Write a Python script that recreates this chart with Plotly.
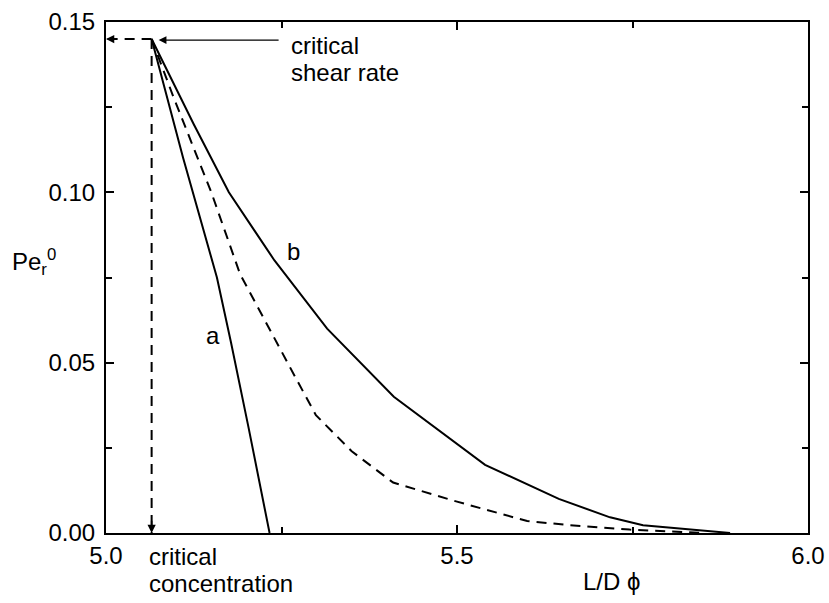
import plotly.graph_objects as go

# critical point
crit_x = 5.065
crit_y = 0.145

# curve a
a_x = [5.065, 5.11, 5.158, 5.178, 5.203, 5.224, 5.233]
a_y = [0.145, 0.11, 0.075, 0.056, 0.031, 0.010, 0.0]

# curve b
b_x = [5.065, 5.125, 5.175, 5.24, 5.315, 5.41, 5.54, 5.645, 5.718, 5.765, 5.889]
b_y = [0.145, 0.12, 0.10, 0.08, 0.06, 0.04, 0.02, 0.01, 0.0046, 0.0023, 0.0]

# dashed curve
d_x = [5.065, 5.096, 5.15, 5.191, 5.269, 5.299, 5.35, 5.409, 5.50, 5.60, 5.661, 5.746, 5.85]
d_y = [0.145, 0.128, 0.10, 0.076, 0.046, 0.0346, 0.024, 0.0148, 0.0092, 0.0035, 0.0023, 0.001, 0.0]

x_ticks = [5.0, 5.5, 6.0]
y_ticks = [0.00, 0.05, 0.10, 0.15]

FONT = "Liberation Sans, Arial, sans-serif"
FS = 24
tfont = dict(family=FONT, size=FS, color="black")

fig = go.Figure()
line_style = dict(color="black", width=2)
dash_style = dict(color="black", width=2, dash="10px,7px")
fig.add_trace(go.Scatter(x=a_x, y=a_y, mode="lines", line=line_style, showlegend=False))
fig.add_trace(go.Scatter(x=b_x, y=b_y, mode="lines", line=line_style, showlegend=False))
fig.add_trace(go.Scatter(x=d_x, y=d_y, mode="lines", line=dash_style, showlegend=False))
# dashed guide lines from critical point
fig.add_trace(go.Scatter(x=[crit_x, 5.0], y=[crit_y, crit_y], mode="lines",
                         line=dash_style, showlegend=False))
fig.add_trace(go.Scatter(x=[crit_x, crit_x], y=[crit_y, 0.0], mode="lines",
                         line=dash_style, showlegend=False))

ann = []
# arrowheads of dashed guides
ann.append(dict(x=5.0, y=crit_y, ax=5.012, ay=crit_y, xref="x", yref="y", axref="x", ayref="y",
                showarrow=True, arrowhead=2, arrowsize=1.1, arrowwidth=1.5, arrowcolor="black",
                standoff=0, text=""))
ann.append(dict(x=crit_x, y=0.0, ax=crit_x, ay=0.004, xref="x", yref="y", axref="x", ayref="y",
                showarrow=True, arrowhead=2, arrowsize=1.1, arrowwidth=1.5, arrowcolor="black",
                standoff=0, text=""))
# critical shear rate arrow
ann.append(dict(x=5.075, y=crit_y - 0.0003, ax=5.248, ay=crit_y - 0.0003, xref="x", yref="y",
                axref="x", ayref="y", showarrow=True, arrowhead=2, arrowsize=1.3, arrowwidth=1.2,
                arrowcolor="black", standoff=0, text=""))
ann.append(dict(x=5.26, y=0.1477, xref="x", yref="y", text="critical",
                showarrow=False, xanchor="left", yanchor="top", font=tfont))
ann.append(dict(x=5.26, y=0.1397, xref="x", yref="y", text="shear rate",
                showarrow=False, xanchor="left", yanchor="top", font=tfont))
ann.append(dict(x=5.058, y=-0.0157, xref="x", yref="paper", text="critical",
                showarrow=False, xanchor="left", yanchor="top", font=tfont))
ann.append(dict(x=5.058, y=-0.0685, xref="x", yref="paper", text="concentration",
                showarrow=False, xanchor="left", yanchor="top", font=tfont))
ann.append(dict(x=5.152, y=0.058, xref="x", yref="y", text="a", showarrow=False, font=tfont))
ann.append(dict(x=5.267, y=0.0825, xref="x", yref="y", text="b", showarrow=False, font=tfont))
ann.append(dict(x=0.72, y=-0.065, xref="paper", yref="paper", text="L/D \u03d5", showarrow=False,
                xanchor="center", yanchor="top", font=tfont))
ann.append(dict(x=-0.137, y=0.53, xref="paper", yref="paper", text="Pe<sub>r</sub><sup>0</sup>",
                showarrow=False, xanchor="left", yanchor="middle", font=tfont))

axis_common = dict(showgrid=False, zeroline=False, showline=True, linecolor="black", linewidth=2,
                   mirror="ticks", ticks="inside", ticklen=8, tickwidth=2, tickcolor="black",
                   automargin=False, tickfont=tfont)
fig.update_layout(
    width=829, height=603,
    margin=dict(l=106, r=21, t=22, b=70),
    plot_bgcolor="white", paper_bgcolor="white",
    xaxis=dict(range=[5.0, 6.0], tickvals=x_ticks, ticktext=[f"{v:.1f}" for v in x_ticks],
               minor=dict(ticks="inside", dtick=0.25, ticklen=6, tickwidth=2, tickcolor="black"),
               **axis_common),
    yaxis=dict(range=[0.0, 0.15], tickvals=y_ticks, ticktext=[f"{v:.2f}" for v in y_ticks],
               minor=dict(ticks="inside", dtick=0.025, ticklen=6, tickwidth=2, tickcolor="black"),
               ticklabelstandoff=4, **axis_common),
    annotations=ann,
)
fig.write_html("out.html")
